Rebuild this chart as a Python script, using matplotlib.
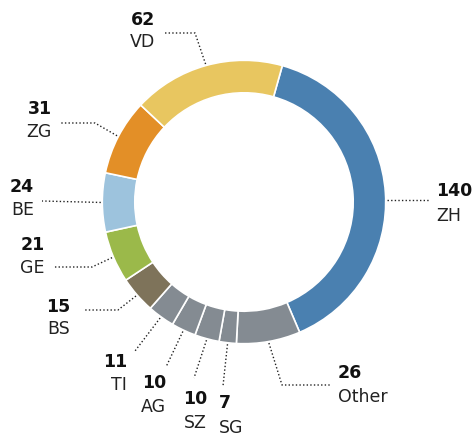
import numpy as np
import matplotlib
matplotlib.use("Agg")
import matplotlib.pyplot as plt

plt.rcParams['font.family'] = ['DejaVu Sans']

# ---- data ----
regions = ["ZH", "Other", "SG", "SZ", "AG", "TI", "BS", "GE", "BE", "ZG", "VD"]
counts = [140, 26, 7, 10, 10, 11, 15, 21, 24, 31, 62]
colors = ["#4a80b0", "#848b92", "#848b92", "#848b92", "#848b92", "#848b92",
          "#7e735a", "#9bb94a", "#9dc3dd", "#e38f27", "#e8c660"]

# ---- layout (pixel coordinates, y measured from top) ----
W, H = 477, 436
CX, CY = 244, 202
R_OUT, RING_W = 141.7, 32.5
START = 74.3

# text x, alignment, number y, name y, leader path after the ring point
label_layout = {
    "ZH":    (436, "left",  191, 216, [(430, 200)]),
    "Other": (338, "left",  373, 397, [(282, 385), (330, 385)]),
    "SG":    (219, "left",  403, 428, [(223, 386)]),
    "SZ":    (207, "right", 399, 423, [(194, 378)]),
    "AG":    (166, "right", 383, 407, [(166, 367)]),
    "TI":    (127, "right", 362, 385, [(135, 351)]),
    "BS":    (70,  "right", 307, 329, [(118, 310), (83, 310)]),
    "GE":    (45,  "right", 245, 268, [(92, 267), (53, 267)]),
    "BE":    (34,  "right", 187, 210, [(42, 201)]),
    "ZG":    (52,  "right", 109, 132, [(95, 123), (60, 123)]),
    "VD":    (155, "right", 20,  42,  [(195, 33), (163, 33)]),
}

fig = plt.figure(figsize=(W / 100, H / 100), dpi=100)
ax = fig.add_axes([0, 0, 1, 1])

ax.pie(counts, colors=colors, startangle=START, counterclock=False,
       radius=R_OUT, center=(CX, H - CY),
       wedgeprops=dict(width=RING_W, edgecolor="white", linewidth=1.2))

ax.set_xlim(0, W)
ax.set_ylim(0, H)
ax.set_aspect("equal")
ax.axis("off")

total = sum(counts)
deg = 360.0 / total
cum = 0
for reg, v in zip(regions, counts):
    mid = np.radians(START - (cum + v / 2) * deg)
    cum += v
    tx, ha, ny, my, path = label_layout[reg]
    if reg == "ZH":
        y0 = path[0][1]
        x0 = CX + np.sqrt(R_OUT ** 2 - (y0 - CY) ** 2) + 1
        p0 = (x0, y0)
    else:
        r = R_OUT + 1.5
        p0 = (CX + r * np.cos(mid), CY - r * np.sin(mid))
    pts = [p0] + path
    xs = [p[0] for p in pts]
    ys = [H - p[1] for p in pts]
    ax.plot(xs, ys, color="#222222", lw=1.0, linestyle=(0, (1, 1.6)),
            solid_capstyle="butt")
    ax.text(tx, H - ny, str(v), ha=ha, va="center", fontsize=12.5,
            fontweight="bold", color="#111111")
    ax.text(tx, H - my, reg, ha=ha, va="center", fontsize=12.5,
            color="#222222")

fig.savefig("out.png", dpi=100, facecolor="white")
